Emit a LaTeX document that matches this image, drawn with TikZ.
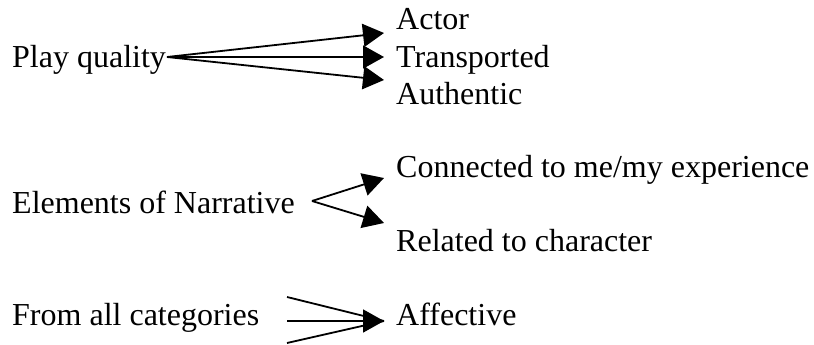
\documentclass[tikz,border=0pt]{standalone}
\usepackage{fontspec}
\setmainfont{Liberation Serif}
\usetikzlibrary{arrows.meta}
\tikzset{
  lbl/.style={anchor=base west, inner sep=0pt, font=\fontsize{32}{37}\selectfont},
  conn/.style={line width=1.8pt, -{Triangle[length=21pt,width=23pt]}},
  plain/.style={line width=1.8pt}
}
\begin{document}
\begin{tikzpicture}[x=1pt,y=-1pt]
\useasboundingbox (0,0) rectangle (814,345);
% group 1
\node[lbl] (pq) at (12,67) {Play quality};
\node[lbl] (actor) at (396,30) {Actor};
\node[lbl] (trans) at (396,67) {Transported};
\node[lbl] (auth) at (396,104) {Authentic};
\coordinate (pqs) at (167,57);
\coordinate (t1) at (384,33);
\coordinate (t2) at (384,57);
\coordinate (t3) at (384,80);
\draw[conn] (pqs) -- (t1);
\draw[conn] (pqs) -- (t2);
\draw[conn] (pqs) -- (t3);
% group 2
\node[lbl] (eon) at (12,213) {Elements of Narrative};
\node[lbl] (conn1) at (396,177) {Connected to me/my experience};
\node[lbl] (rel) at (396,251) {Related to character};
\coordinate (eos) at (312,201);
\coordinate (t4) at (384,178);
\coordinate (t5) at (384,223);
\draw[conn] (eos) -- (t4);
\draw[conn] (eos) -- (t5);
% group 3
\node[lbl] (fac) at (12,325) {From all categories};
\node[lbl] (aff) at (396,325) {Affective};
\coordinate (s1) at (287,297);
\coordinate (s2) at (287,321);
\coordinate (s3) at (287,343);
\coordinate (t6) at (384,321);
\draw[plain] (s1) -- (t6);
\draw[plain] (s3) -- (t6);
\draw[conn] (s2) -- (t6);
\end{tikzpicture}
\end{document}
